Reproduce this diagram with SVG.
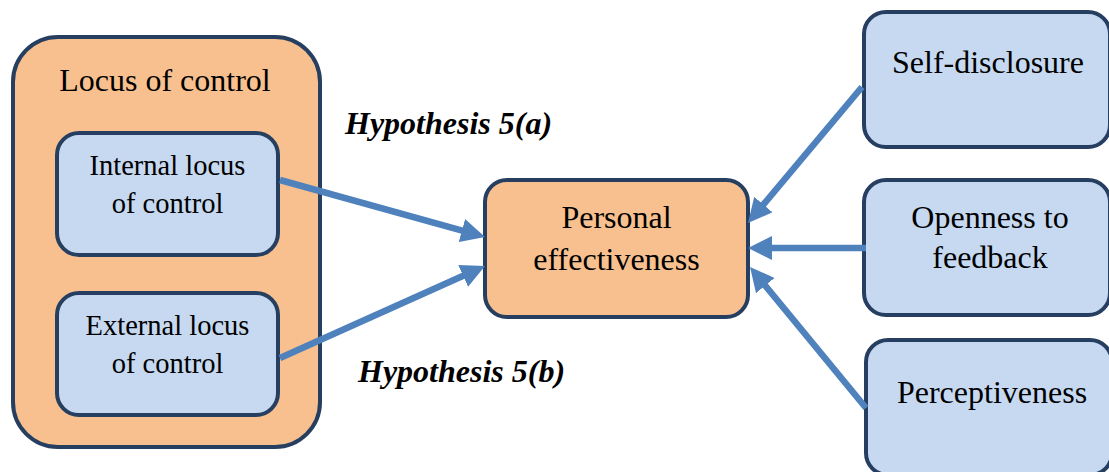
<svg xmlns="http://www.w3.org/2000/svg" width="1109" height="472" viewBox="0 0 1109 472">
  <defs>
    <style>
      .orange { fill: #F9C08F; stroke: #263F60; stroke-width: 4; }
      .blue { fill: #C6D9F1; stroke: #263F60; stroke-width: 4; }
      .lbl { font-family: "Liberation Serif", "Times New Roman", serif; fill: #000; text-anchor: middle; }
      .big { font-size: 32px; }
      .small { font-size: 28.5px; }
      .hyp { font-family: "Liberation Serif", "Times New Roman", serif; font-size: 32px; font-weight: bold; font-style: italic; fill: #000; }
      .conn { stroke: #4F81BD; stroke-width: 6.5; fill: none; marker-end: url(#head); }
    </style>
    <marker id="head" viewBox="0 -12 24 24" refX="5" refY="0" markerWidth="24" markerHeight="24" markerUnits="userSpaceOnUse" orient="auto">
      <path d="M0,-12 L24,0 L0,12 z" fill="#4F81BD"/>
    </marker>
  </defs>

  <rect width="1109" height="472" fill="#FFFFFF"/>

  <!-- container: locus of control -->
  <g id="locus-of-control">
    <rect class="orange" x="13" y="37" width="307" height="410" rx="45" ry="45"/>
    <text class="lbl big" x="165" y="91">Locus of control</text>
  </g>

  <g id="internal-locus">
    <rect class="blue" x="57" y="133" width="221" height="122" rx="22" ry="22"/>
    <text class="lbl small" x="167.5" y="175">Internal locus</text>
    <text class="lbl small" x="167.5" y="213">of control</text>
  </g>

  <g id="external-locus">
    <rect class="blue" x="57" y="293" width="221" height="122" rx="22" ry="22"/>
    <text class="lbl small" x="167.5" y="335">External locus</text>
    <text class="lbl small" x="167.5" y="373">of control</text>
  </g>

  <g id="personal-effectiveness">
    <rect class="orange" x="485" y="180" width="263" height="137" rx="22" ry="22"/>
    <text class="lbl big" x="616.5" y="228">Personal</text>
    <text class="lbl big" x="616.5" y="270">effectiveness</text>
  </g>

  <g id="self-disclosure">
    <rect class="blue" x="864" y="12" width="246" height="135" rx="22" ry="22"/>
    <text class="lbl big" x="988" y="73">Self-disclosure</text>
  </g>

  <g id="openness">
    <rect class="blue" x="864" y="180" width="246" height="135" rx="22" ry="22"/>
    <text class="lbl big" x="990" y="228">Openness to</text>
    <text class="lbl big" x="990" y="268">feedback</text>
  </g>

  <g id="perceptiveness">
    <rect class="blue" x="866" y="340" width="246" height="135" rx="22" ry="22"/>
    <text class="lbl big" x="992" y="403">Perceptiveness</text>
  </g>

  <!-- hypothesis labels -->
  <text class="hyp" x="345" y="134">Hypothesis 5(a)</text>
  <text class="hyp" x="358" y="382">Hypothesis 5(b)</text>

  <!-- connectors -->
  <g id="connectors">
    <line class="conn" x1="280" y1="180" x2="466.7" y2="231.9"/>
    <line class="conn" x1="280" y1="358" x2="467.7" y2="273.8"/>
    <line class="conn" x1="862" y1="87" x2="760.2" y2="208.4"/>
    <line class="conn" x1="866" y1="248" x2="767" y2="248"/>
    <line class="conn" x1="866" y1="408" x2="762.1" y2="281.7"/>
  </g>
</svg>
